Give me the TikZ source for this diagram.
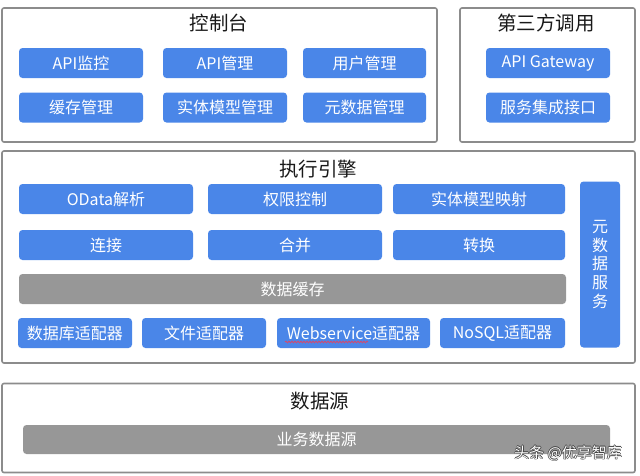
\documentclass[tikz,border=0pt]{standalone}
\usepackage{fontspec}
\setmainfont{Noto Sans CJK SC}
\usetikzlibrary{decorations.pathmorphing}
\definecolor{boxblue}{HTML}{4A86E8}
\definecolor{cachegray}{HTML}{979797}
\definecolor{framegray}{HTML}{8C8C8C}
\definecolor{spellred}{HTML}{D9486A}

\begin{document}
\begin{tikzpicture}[x=1pt, y=-1pt,
  layer/.style={draw=framegray, line width=1.6pt, rounded corners=2pt, inner sep=0pt},
  title/.style={font=\fontsize{19.5}{22}\selectfont, text=black!90},
  func/.style={fill=boxblue, rounded corners=3.5pt, text=white, inner sep=0pt,
    font=\fontsize{16}{18}\selectfont, minimum height=30pt},
  cache/.style={func, fill=cachegray},
  wmtext/.style={font=\fontsize{15}{18}\selectfont, text=white},
  wmedge/.style={wmtext, text=black!75}]
  \useasboundingbox (0,0) rectangle (640,475);

  % control panel
  \node[layer, minimum width=435pt, minimum height=134pt] (console) at (219.5,75) {};
  \node[title] (console-t) at (219,23) {控制台};
  \node[func, minimum width=124pt] (monitor) at (81,63) {API监控};
  \node[func, minimum width=124pt] (apimgr) at (225,63) {API管理};
  \node[func, minimum width=123pt] (usermgr) at (364.5,63) {用户管理};
  \node[func, minimum width=124pt] (cachemgr) at (81,107.5) {缓存管理};
  \node[func, minimum width=124pt] (entitymgr) at (225,107.5) {实体模型管理};
  \node[func, minimum width=123pt] (metamgr) at (364.5,107.5) {元数据管理};

  % third party
  \node[layer, minimum width=175pt, minimum height=134pt] (third) at (547.5,75) {};
  \node[title] (third-t) at (546,23) {第三方调用};
  \node[func, minimum width=124pt] (gateway) at (548,63) {API Gateway};
  \node[func, minimum width=124pt] (integ) at (548,107.5) {服务集成接口};

  % engine
  \node[layer, minimum width=633pt, minimum height=212pt] (engine) at (318.5,257) {};
  \node[title] (engine-t) at (318,169) {执行引擎};
  \node[func, minimum width=174pt] (odata) at (106,199) {OData解析};
  \node[func, minimum width=174pt] (perm) at (295,199) {权限控制};
  \node[func, minimum width=172pt] (mapping) at (479,199) {实体模型映射};
  \node[func, minimum width=174pt] (join) at (106,245) {连接};
  \node[func, minimum width=174pt] (merge) at (295,245) {合并};
  \node[func, minimum width=172pt] (convert) at (479,245) {转换};
  \node[cache, minimum width=547pt] (datacache) at (292.5,289) {数据缓存};
  \node[func, minimum width=114pt] (dbadapt) at (75,333) {数据库适配器};
  \node[func, minimum width=124pt] (fileadapt) at (204,333) {文件适配器};
  \node[func, minimum width=153pt] (wsadapt) at (353.5,333) {Webservice适配器};
  \node[func, minimum width=125pt] (nosqladapt) at (502.5,333) {NoSQL适配器};
  \node[func, minimum width=40pt, minimum height=166pt, align=center,
    font=\fontsize{16}{18.8}\selectfont] (metasvc) at (600,264.5) {元\\数\\据\\服\\务};
  \draw[spellred, line width=0.8pt, decorate,
    decoration={snake, amplitude=0.8pt, segment length=3pt}] (285,342) -- (368,342);

  % data source
  \node[layer, minimum width=633pt, minimum height=89pt] (source) at (318.5,428) {};
  \node[title] (source-t) at (320,401) {数据源};
  \node[cache, minimum width=587pt, minimum height=29pt] (bizdata) at (316.5,439.5) {业务数据源};

  \foreach \dx/\dy in {-0.7/0, 0.7/0, 0/-0.7, 0/0.7, 0.6/0.6}
    \node[wmedge] at (568+\dx,453+\dy) {头条 @优享智库};
  \node[wmtext] (wm) at (568,453) {头条 @优享智库};
\end{tikzpicture}
\end{document}
